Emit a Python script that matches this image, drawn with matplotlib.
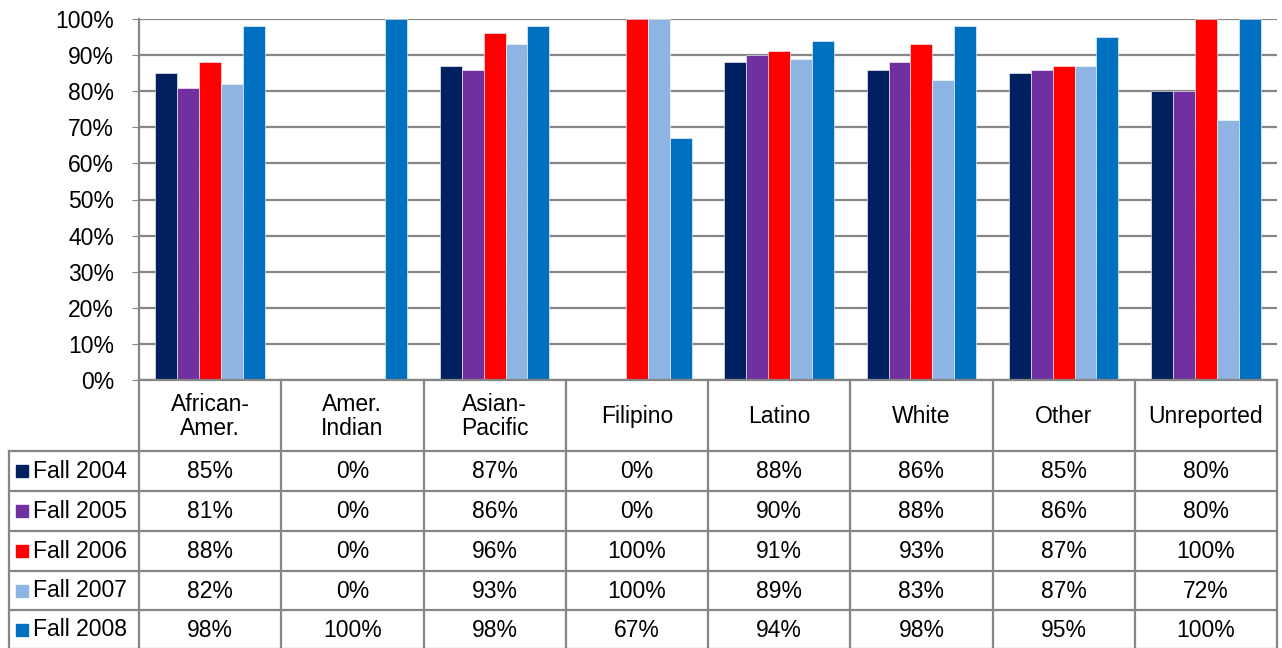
import matplotlib
matplotlib.use("Agg")
import matplotlib.pyplot as plt
import numpy as np

plt.rcParams['font.family'] = ['Liberation Sans', 'DejaVu Sans']

categories = ["African-\nAmer.", "Amer.\nIndian", "Asian-\nPacific", "Filipino",
              "Latino", "White", "Other", "Unreported"]
series = ["Fall 2004", "Fall 2005", "Fall 2006", "Fall 2007", "Fall 2008"]
fall_2004 = [85, 0, 87, 0, 88, 86, 85, 80]
fall_2005 = [81, 0, 86, 0, 90, 88, 86, 80]
fall_2006 = [88, 0, 96, 100, 91, 93, 87, 100]
fall_2007 = [82, 0, 93, 100, 89, 83, 87, 72]
fall_2008 = [98, 100, 98, 67, 94, 98, 95, 100]
values = [fall_2004, fall_2005, fall_2006, fall_2007, fall_2008]
colors = ["#002060", "#7030A0", "#FF0000", "#8DB4E2", "#0070C0"]
yticks = np.arange(0, 101, 10)

W, H = 1282, 648
fs = 16.5
fig = plt.figure(figsize=(W / 100, H / 100), dpi=100)

# plot area in pixels
left, right, top, bottom = 139, 1277, 19, 380
ax = fig.add_axes([left / W, 1 - bottom / H, (right - left) / W, (bottom - top) / H])

n = len(categories)
k = len(series)
bw = 1.0 / (k + 1.5)
x = np.arange(n)
for i, (name, vals, c) in enumerate(zip(series, values, colors)):
    ax.bar(x - 0.5 + 0.75 * bw + (i + 0.5) * bw, vals, width=bw, color=c,
           edgecolor='white', linewidth=0.4, zorder=3, label=name)

ax.set_xlim(-0.5, n - 0.5)
ax.set_ylim(0, 100)
ax.set_yticks(yticks)
ax.set_yticklabels([f"{v}%" for v in yticks], fontsize=fs)
ax.tick_params(axis='y', length=5, color='#868686', pad=13)
ax.set_xticks([])
ax.yaxis.grid(True, color='#868686', linewidth=1.6, zorder=0)
for s in ['top', 'right', 'bottom']:
    ax.spines[s].set_visible(False)
ax.spines['left'].set_color('#868686')
ax.spines['left'].set_linewidth(1.6)

# data table drawn beneath the plot area
tab = fig.add_axes([0, 0, 1, 1])
tab.set_xlim(0, W)
tab.set_ylim(H, 0)
tab.axis('off')
lc = '#868686'
lw = 1.6
colw = (right - left) / n
col_x = [left + j * colw for j in range(n + 1)]
head_top, head_bot = 380, 451
row_y = [451, 491, 531, 571, 610, 649]
key_left = 9

tab.plot([left, right], [head_top, head_top], color=lc, lw=lw)
for cx in col_x:
    tab.plot([cx, cx], [head_top, row_y[-1]], color=lc, lw=lw)
tab.plot([key_left, key_left], [row_y[0], row_y[-1]], color=lc, lw=lw)
for ry in row_y:
    tab.plot([key_left, right], [ry, ry], color=lc, lw=lw)

for j, cat in enumerate(categories):
    tab.text(col_x[j] + colw / 2, (head_top + head_bot) / 2 + 1, cat,
             ha='center', va='center', fontsize=fs, linespacing=1.08)

for i, (name, vals, c) in enumerate(zip(series, values, colors)):
    cy = (row_y[i] + row_y[i + 1]) / 2
    tab.add_patch(plt.Rectangle((16, cy - 6), 12, 12, color=c))
    tab.text(33, cy, name, ha='left', va='center', fontsize=fs)
    for j, v in enumerate(vals):
        tab.text(col_x[j] + colw / 2, cy + 1, f"{v}%", ha='center', va='center',
                 fontsize=fs)

fig.savefig("out.png", dpi=100)
